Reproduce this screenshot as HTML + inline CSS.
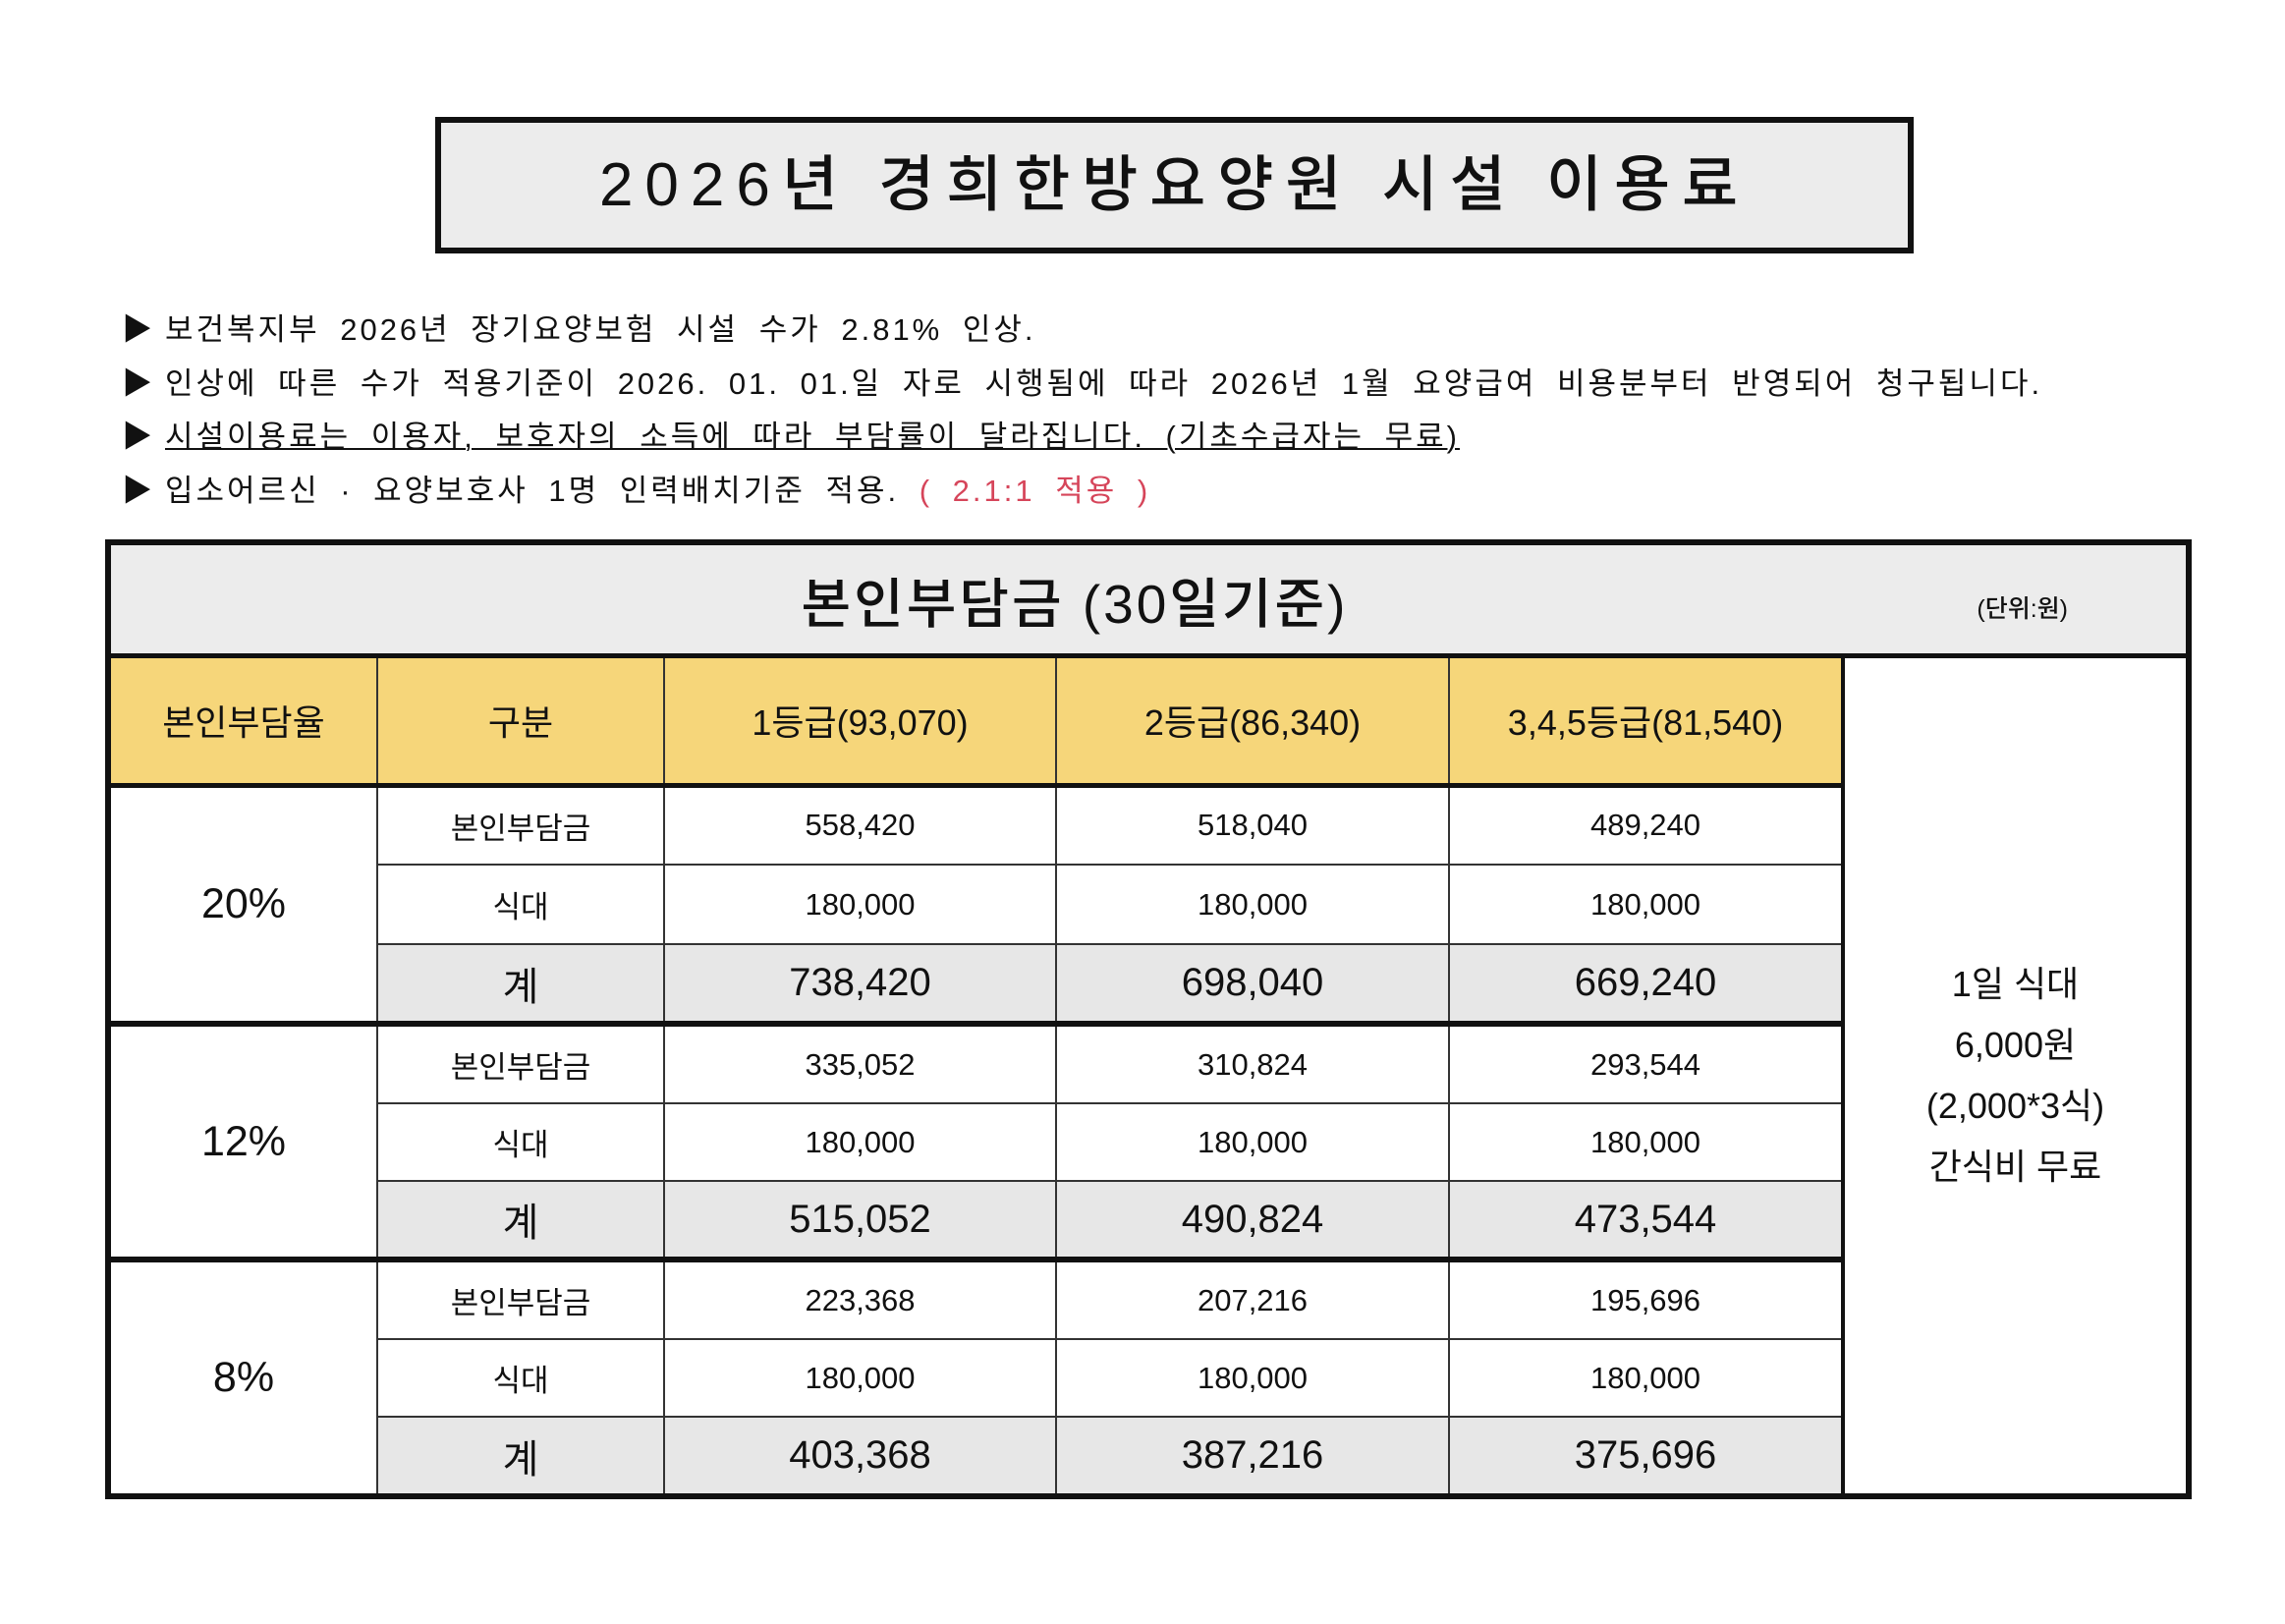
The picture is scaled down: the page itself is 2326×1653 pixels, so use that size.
<!DOCTYPE html>
<html><head><meta charset="utf-8"><style>
body{margin:0;background:#fff;width:2326px;height:1653px;position:relative;overflow:hidden;font-family:"Liberation Sans","Noto Sans CJK KR",sans-serif;color:#111}
.title{position:absolute;left:443px;top:119px;width:1493px;height:127px;border:6px solid #111;background:#ececec;text-align:center;line-height:127px;font-size:62px;font-weight:500;letter-spacing:12px}
.b{position:absolute;left:124px;font-size:31px;white-space:nowrap;word-spacing:9px;letter-spacing:3px}
.b span.t{position:absolute;left:44px}
table{position:absolute;left:107px;top:549px;border-collapse:collapse;table-layout:fixed}
td{border:2px solid #333;text-align:center;padding:0;font-size:31px}
.hd td{background:#ececec;font-size:55px;font-weight:500;border:6px solid #111;border-bottom:5px solid #111;position:relative;letter-spacing:3px}
.ch td{background:#f6d67a;font-size:36px;border-bottom:5px solid #111}
.sum td{background:#e7e7e7;font-size:40px}
.grp td{border-top:6px solid #111}
.pct{font-size:43px}
.r{border-right:6px solid #111;border-left:4px solid #111;font-size:37px;line-height:62px;background:#fff}
</style></head><body>
<div class="title">2026년 경희한방요양원 시설 이용료</div>
<div class="b" style="top:310px">▶<span class="t">보건복지부 2026년 장기요양보험 시설 수가 2.81% 인상.</span></div>
<div class="b" style="top:365px">▶<span class="t">인상에 따른 수가 적용기준이 2026. 01. 01.일 자로 시행됨에 따라 2026년 1월 요양급여 비용분부터 반영되어 청구됩니다.</span></div>
<div class="b" style="top:419px">▶<span class="t" style="text-decoration:underline;text-decoration-thickness:2px">시설이용료는 이용자, 보호자의 소득에 따라 부담률이 달라집니다. (기초수급자는 무료)</span></div>
<div class="b" style="top:474px">▶<span class="t">입소어르신 · 요양보호사 1명 인력배치기준 적용. <span style="color:#d6455a">( 2.1:1 적용 )</span></span></div>
<table>
<colgroup><col style="width:274px"><col style="width:292px"><col style="width:399px"><col style="width:400px"><col style="width:401px"><col style="width:352px"></colgroup>
<tr class="hd" style="height:115px"><td colspan="6"><span style="position:relative;left:-75px">본인부담금 (30일기준)</span><span style="position:absolute;right:120px;top:45px;font-size:25px;letter-spacing:0">(단위:원)</span></td></tr>
<tr class="ch" style="height:132px"><td style="border-left:6px solid #111">본인부담율</td><td>구분</td><td>1등급(93,070)</td><td>2등급(86,340)</td><td>3,4,5등급(81,540)</td><td rowspan="10" class="r" style="background:#fff;border-bottom:6px solid #111">1일 식대<br>6,000원<br>(2,000*3식)<br>간식비 무료</td></tr>
<tr style="height:81px"><td rowspan="3" class="pct" style="border-left:6px solid #111">20%</td><td>본인부담금</td><td>558,420</td><td>518,040</td><td>489,240</td></tr>
<tr style="height:81px"><td>식대</td><td>180,000</td><td>180,000</td><td>180,000</td></tr>
<tr class="sum" style="height:81px"><td>계</td><td>738,420</td><td>698,040</td><td>669,240</td></tr>
<tr class="grp" style="height:81px"><td rowspan="3" class="pct" style="border-left:6px solid #111">12%</td><td>본인부담금</td><td>335,052</td><td>310,824</td><td>293,544</td></tr>
<tr style="height:79px"><td>식대</td><td>180,000</td><td>180,000</td><td>180,000</td></tr>
<tr class="sum" style="height:80px"><td>계</td><td>515,052</td><td>490,824</td><td>473,544</td></tr>
<tr class="grp" style="height:81px"><td rowspan="3" class="pct" style="border-left:6px solid #111;border-bottom:6px solid #111">8%</td><td>본인부담금</td><td>223,368</td><td>207,216</td><td>195,696</td></tr>
<tr style="height:79px"><td>식대</td><td>180,000</td><td>180,000</td><td>180,000</td></tr>
<tr class="sum" style="height:81px"><td style="border-bottom:6px solid #111">계</td><td style="border-bottom:6px solid #111">403,368</td><td style="border-bottom:6px solid #111">387,216</td><td style="border-bottom:6px solid #111">375,696</td></tr>
</table>
</body></html>
